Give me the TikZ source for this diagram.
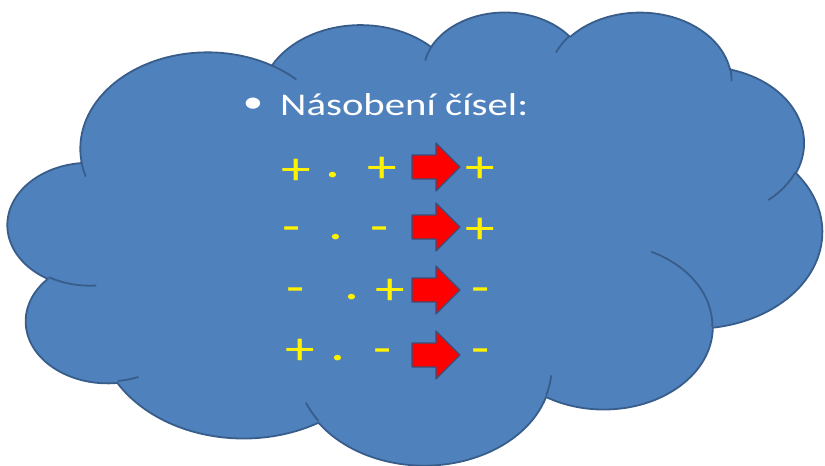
\documentclass[tikz,border=0pt]{standalone}
\usepackage{fontspec}
\newfontfamily\slidefont[FakeStretch=1.29]{Carlito}
\definecolor{cloudblue}{HTML}{4F81BD}
\definecolor{cloudedge}{HTML}{385D8A}
\definecolor{arrowedge}{HTML}{3A4F7A}
\tikzset{
  lobe/.style n args={4}{insert path={arc[x radius=#1, y radius=#2,
      start angle={atan2(#1*sin(#3),#2*cos(#3))},
      delta angle={Mod(atan2(#1*sin(#3+#4),#2*cos(#3+#4))-atan2(#1*sin(#3),#2*cos(#3)),360)}]}},
  sign/.style={text=yellow, inner sep=0pt, font=\slidefont\fontsize{46}{50}\selectfont},
  plussign/.style={sign, yshift=-4pt},
  minussign/.style={sign, yshift=-7pt},
  headline/.style={text=white, inner sep=0pt, font=\slidefont\fontsize{31.6}{38}\selectfont},
}

\begin{document}
\begin{tikzpicture}[x=1pt,y=-1pt]
    \useasboundingbox (0,0) rectangle (825,466);
    % the cloud
    \begin{scope}[shift={(8,11)},x=1.8843pt,y=-1.0486pt]
      \filldraw[fill=cloudblue,draw=cloudedge,line width=1.8pt,line join=round] (39.00,143.70)
        [lobe={67.53}{91.90}{-190.4875}{123.7805}]
        [lobe={53.33}{72.67}{-144.1024}{89.9452}]
        [lobe={43.65}{59.45}{-145.8079}{99.7230}]
        [lobe={48.57}{65.95}{-130.9861}{117.2417}]
        [lobe={53.33}{72.73}{-78.7089}{109.0269}]
        [lobe={67.75}{92.20}{-46.2673}{130.2690}]
        [lobe={57.85}{78.67}{0.6250}{114.0333}]
        [lobe={67.52}{92.15}{22.4516}{115.1726}]
        [lobe={77.20}{105.43}{66.2426}{75.7110}]
        [lobe={43.60}{59.18}{-274.9421}{146.7356}]
        [lobe={43.45}{59.45}{-246.8285}{152.5189}]
        -- cycle;
      \begin{scope}[draw=cloudedge,line width=1.8pt]
        \draw (46.93,261.77) [lobe={43.45}{59.45}{86.7420}{26.4295}];
        \draw (69.28,348.99) [lobe={43.60}{59.18}{73.6105}{11.4475}];
        \draw (164.78,390.90) [lobe={67.52}{92.15}{137.6242}{14.0811}];
        \draw (288.27,347.51) [lobe={67.52}{92.15}{6.4533}{15.9984}];
        \draw (341.29,229.54) [lobe={57.85}{78.67}{-70.2924}{70.9174}];
        \draw (417.98,153.54) [lobe={53.33}{72.73}{30.3180}{27.7515}];
        \draw (383.24,54.26) [lobe={48.57}{65.95}{-13.7443}{14.8589}];
        \draw (290.78,39.52) [lobe={48.57}{65.95}{-149.1815}{18.1954}];
        \draw (221.41,47.20) [lobe={43.65}{59.45}{-163.4943}{17.6864}];
        \draw (140.00,51.92) [lobe={67.53}{91.90}{-66.7070}{12.3194}];
        \draw (41.27,157.89) [lobe={67.53}{91.90}{157.6544}{11.8582}];
      \end{scope}
    \end{scope}
    % heading
    \node[headline] (bullet) at (253,105) {•};
    \node[headline,anchor=base west] (title) at (280,115) {Násobení čísel:};
    % red arrows
    \foreach \y in {167,227,290,355}
      \draw[fill=red,draw=arrowedge,line width=1.2pt,line join=round]
        (412,\y-12) -- (436,\y-12) -- (436,\y-24) -- (460,\y)
        -- (436,\y+24) -- (436,\y+12) -- (412,\y+12) -- cycle;
    % signs
    \node[plussign] (pa) at (296,167.5) {+};
    \node[sign] (da) at (333,175) {.};
    \node[plussign] (pb) at (382,166) {+};
    \node[plussign] (ra) at (480,166) {+};
    \node[minussign] (ma) at (291.5,227.5) {-};
    \node[sign] (db) at (336,237) {.};
    \node[minussign] (mb) at (380,227) {-};
    \node[plussign] (rb) at (480,226.5) {+};
    \node[minussign] (mc) at (296,288.3) {-};
    \node[sign] (dc) at (352.3,297.3) {.};
    \node[plussign] (pc) at (390.3,287.8) {+};
    \node[minussign] (rc) at (480.3,288.3) {-};
    \node[plussign] (pd) at (300.7,348.2) {+};
    \node[sign] (dd) at (338.3,358.3) {.};
    \node[minussign] (md) at (382.5,349) {-};
    \node[minussign] (rd) at (480.3,349) {-};
\end{tikzpicture}
\end{document}
